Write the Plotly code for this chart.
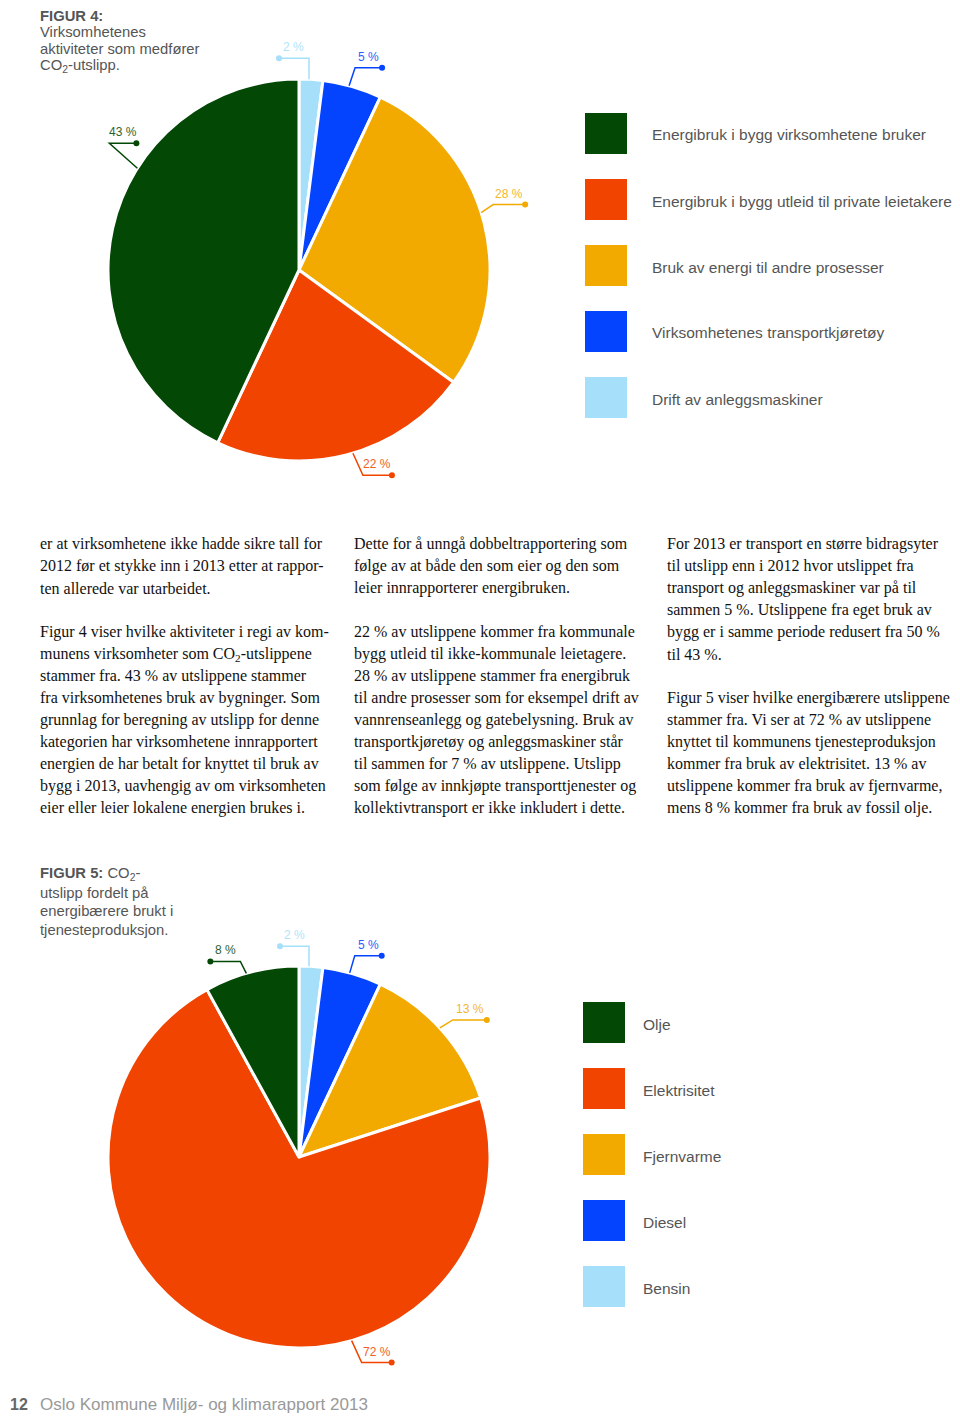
import math
import plotly.graph_objects as go

# the page body adds an 8px margin, so the figure is drawn 8px smaller and shifted
OFF = 8
W, H = 960 - OFF, 1417 - OFF

# data
fig4_labels = ["Energibruk i bygg virksomhetene bruker", "Energibruk i bygg utleid til private leietakere",
               "Bruk av energi til andre prosesser", "Virksomhetenes transportkjøretøy", "Drift av anleggsmaskiner"]
fig4_values = [43, 22, 28, 5, 2]
fig5_labels = ["Olje", "Elektrisitet", "Fjernvarme", "Diesel", "Bensin"]
fig5_values = [8, 72, 13, 5, 2]
colors = ["#034805", "#F04400", "#F2AA00", "#0544FF", "#A5DFF9"]

col1 = ["er at virksomhetene ikke hadde sikre tall for",
        "2012 før et stykke inn i 2013 etter at rappor-",
        "ten allerede var utarbeidet.",
        "",
        "Figur 4 viser hvilke aktiviteter i regi av kom-",
        "munens virksomheter som CO<sub>2</sub>-utslippene",
        "stammer fra. 43 % av utslippene stammer",
        "fra virksomhetenes bruk av bygninger. Som",
        "grunnlag for beregning av utslipp for denne",
        "kategorien har virksomhetene innrapportert",
        "energien de har betalt for knyttet til bruk av",
        "bygg i 2013, uavhengig av om virksomheten",
        "eier eller leier lokalene energien brukes i."]
col2 = ["Dette for å unngå dobbeltrapportering som",
        "følge av at både den som eier og den som",
        "leier innrapporterer energibruken.",
        "",
        "22 % av utslippene kommer fra kommunale",
        "bygg utleid til ikke-kommunale leietagere.",
        "28 % av utslippene stammer fra energibruk",
        "til andre prosesser som for eksempel drift av",
        "vannrenseanlegg og gatebelysning. Bruk av",
        "transportkjøretøy og anleggsmaskiner står",
        "til sammen for 7 % av utslippene. Utslipp",
        "som følge av innkjøpte transporttjenester og",
        "kollektivtransport er ikke inkludert i dette."]
col3 = ["For 2013 er transport en større bidragsyter",
        "til utslipp enn i 2012 hvor utslippet fra",
        "transport og anleggsmaskiner var på til",
        "sammen 5 %. Utslippene fra eget bruk av",
        "bygg er i samme periode redusert fra 50 %",
        "til 43 %.",
        "",
        "Figur 5 viser hvilke energibærere utslippene",
        "stammer fra. Vi ser at 72 % av utslippene",
        "knyttet til kommunens tjenesteproduksjon",
        "kommer fra bruk av elektrisitet. 13 % av",
        "utslippene kommer fra bruk av fjernvarme,",
        "mens 8 % kommer fra bruk av fossil olje."]
title4 = ["<b>FIGUR 4:</b>", "Virksomhetenes", "aktiviteter som medfører", "CO<sub>2</sub>-utslipp."]
title5 = ["<b>FIGUR 5:</b> CO<sub>2</sub>-", "utslipp fordelt på", "energibærere brukt i", "tjenesteproduksjon."]

SANS = "Liberation Sans, Arial, sans-serif"
SERIF = "Liberation Serif, Times New Roman, serif"


def px(x):
    return (x - OFF) / W


def py(y):
    return 1 - (y - OFF) / H


fig = go.Figure()
shapes = []
annots = []

# pie geometry and leader-label placement (angle on rim, elbow offset, arm length)
pies = [
    dict(cx=299, cy=270, r=191, values=fig4_values,
         leaders=[(147.8, -28, -25, 27), (-73.6, 10, 22, 29), (17.5, 12, -8, 32),
                  (74.8, 6, -18, 27), (87, 0, -21, -30)]),
    dict(cx=299, cy=1157, r=191, values=fig5_values,
         leaders=[(106, -6, -12, -30), (-74, 10, 22, 30), (42.5, 13, -8, 34),
                  (74.6, 5, -17, 27), (87, 0, -20, -29)]),
]

for p in pies:
    # slices run clockwise from 12 o'clock in reverse legend order
    fig.add_trace(go.Pie(values=p["values"][::-1], sort=False, direction="clockwise", rotation=0,
                         marker=dict(colors=colors[::-1], line=dict(color="white", width=3)),
                         textinfo="none", hoverinfo="percent",
                         domain=dict(x=[px(p["cx"] - p["r"]), px(p["cx"] + p["r"])],
                                     y=[py(p["cy"] + p["r"]), py(p["cy"] - p["r"])])))
    for v, c, (ang, edx, edy, arm) in zip(p["values"], colors, p["leaders"]):
        a = math.radians(ang)
        sx = p["cx"] + p["r"] * math.cos(a)
        sy = p["cy"] - p["r"] * math.sin(a)
        ex, ey = sx + edx, sy + edy
        dx = ex + arm
        shapes.append(dict(type="path", xref="paper", yref="paper",
                           path=f"M {px(sx)},{py(sy)} L {px(ex)},{py(ey)} L {px(dx)},{py(ey)}",
                           line=dict(color=c, width=1.5)))
        shapes.append(dict(type="circle", xref="paper", yref="paper", fillcolor=c, line=dict(width=0),
                           x0=px(dx - 3), x1=px(dx + 3), y0=py(ey + 3), y1=py(ey - 3)))
        annots.append(dict(text=f"{v} %", x=px((ex + dx) / 2), y=py(ey - 11), xref="paper", yref="paper",
                           showarrow=False, xanchor="center", yanchor="middle",
                           font=dict(family=SANS, size=12, color=c), opacity=0.85))

# legends
for labels, x0, top, tx in [(fig4_labels, 585, 113, 651), (fig5_labels, 583, 1002, 642)]:
    for i, (lab, c) in enumerate(zip(labels, colors)):
        y0 = top + 66 * i
        shapes.append(dict(type="rect", xref="paper", yref="paper", fillcolor=c, line=dict(width=0),
                           x0=px(x0), x1=px(x0 + 42), y0=py(y0 + 41), y1=py(y0)))
        annots.append(dict(text=lab, x=px(tx - 1), y=py(y0 + 22), xref="paper", yref="paper",
                           showarrow=False, xanchor="left", yanchor="middle",
                           font=dict(family=SANS, size=15.5, color="#555555")))

# figure titles
for lines, y0, step in [(title4, 16, 16.5), (title5, 874, 18.5)]:
    for i, t in enumerate(lines):
        annots.append(dict(text=t, x=px(38), y=py(y0 + step * i), xref="paper", yref="paper",
                           showarrow=False, xanchor="left", yanchor="middle",
                           font=dict(family=SANS, size=14.8, color="#555555")))

# body text
for lines, x0 in [(col1, 39), (col2, 353), (col3, 666)]:
    for i, t in enumerate(lines):
        if not t:
            continue
        annots.append(dict(text=t, x=px(x0 - 1), y=py(544 + 22 * i), xref="paper", yref="paper",
                           showarrow=False, xanchor="left", yanchor="middle",
                           font=dict(family=SERIF, size=16, color="#111111")))

# footer
annots.append(dict(text="<b>12</b>", x=px(OFF), y=py(1404), xref="paper", yref="paper", showarrow=False,
                   xanchor="left", yanchor="middle", font=dict(family=SANS, size=16, color="#666666")))
annots.append(dict(text="Oslo Kommune Miljø- og klimarapport 2013", x=px(38), y=py(1404), xref="paper",
                   yref="paper", showarrow=False, xanchor="left", yanchor="middle",
                   font=dict(family=SANS, size=17, color="#999999")))

fig.update_layout(width=W, height=H, margin=dict(l=0, r=0, t=0, b=0), showlegend=False,
                  paper_bgcolor="white", plot_bgcolor="white", shapes=shapes, annotations=annots)

fig.write_html("out.html")
